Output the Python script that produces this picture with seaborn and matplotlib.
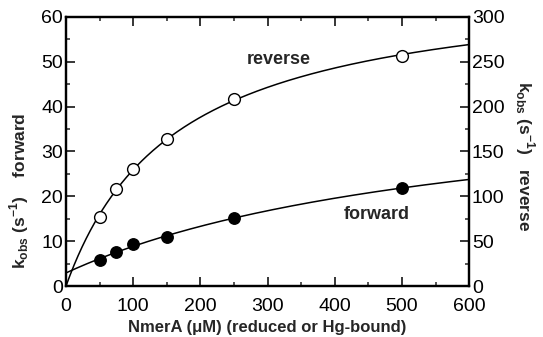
import numpy as np
import pandas as pd
import matplotlib
matplotlib.use("Agg")
import matplotlib.pyplot as plt
import seaborn as sns
from matplotlib.ticker import MultipleLocator

# Data
conc = [50, 75, 100, 150, 250, 500]               # NmerA (uM)
forward = [5.9, 7.6, 9.3, 11.0, 15.1, 21.9]        # left axis (s^-1)
reverse = [76.5, 108.0, 130.5, 163.7, 208.7, 256.8]  # right axis (s^-1)

x_ticks = [0, 100, 200, 300, 400, 500, 600]
left_ticks = [0, 10, 20, 30, 40, 50, 60]
right_ticks = [0, 50, 100, 150, 200, 250, 300]


def hyperbolic_fit(x, y, fix_zero=False):
    """least-squares fit of y = y0 + V*x/(K+x) (grid search on K)"""
    x = np.asarray(x, float); y = np.asarray(y, float)
    best = None
    for K in np.linspace(10, 3000, 6000):
        h = x / (K + x)
        if fix_zero:
            A = h[:, None]
        else:
            A = np.column_stack([np.ones_like(h), h])
        coef, *_ = np.linalg.lstsq(A, y, rcond=None)
        res = np.sum((A @ coef - y) ** 2)
        if best is None or res < best[0]:
            best = (res, K, coef)
    _, K, coef = best
    if fix_zero:
        y0, V = 0.0, coef[0]
    else:
        y0, V = coef
    return lambda xx: y0 + V * xx / (K + xx)


sns.set_theme(style="ticks")
plt.rcParams['font.family'] = ['Liberation Sans', 'DejaVu Sans']
plt.rcParams['mathtext.fontset'] = 'custom'
plt.rcParams['mathtext.rm'] = 'Liberation Sans:bold'
plt.rcParams['mathtext.bf'] = 'Liberation Sans:bold'

fig = plt.figure(figsize=(5.43, 3.37), dpi=100)
ax = fig.add_axes([0.1215, 0.151, 0.7425, 0.799])
ax2 = ax.twinx()

xx = np.linspace(0, 600, 400)
f_fit = hyperbolic_fit(conc, forward)
r_fit = hyperbolic_fit(conc, reverse, fix_zero=True)

df_pts = pd.DataFrame({"conc": conc, "forward": forward, "reverse": reverse})
df_fit = pd.DataFrame({"x": xx, "f": f_fit(xx), "r": r_fit(xx)})

sns.lineplot(data=df_fit, x="x", y="f", ax=ax, color="black", lw=1.1)
sns.scatterplot(data=df_pts, x="conc", y="forward", ax=ax, color="black",
                s=68, edgecolor="black", linewidth=1, zorder=5)

sns.lineplot(data=df_fit, x="x", y="r", ax=ax2, color="black", lw=1.1)
sns.scatterplot(data=df_pts, x="conc", y="reverse", ax=ax2, facecolor="white",
                s=72, edgecolor="black", linewidth=1, zorder=5)

ax.set_xlim(0, 600)
ax.set_ylim(0, 60)
ax2.set_ylim(0, 300)
ax.set_xticks(x_ticks)
ax.set_yticks(left_ticks)
ax2.set_yticks(right_ticks)
ax.xaxis.set_minor_locator(MultipleLocator(50))
ax.yaxis.set_minor_locator(MultipleLocator(5))
ax2.yaxis.set_minor_locator(MultipleLocator(25))

for a in (ax, ax2):
    for s in a.spines.values():
        s.set_visible(True)
        s.set_linewidth(1.6)
        s.set_color("black")
ax.tick_params(which="major", direction="in", length=6.5, width=1.1, top=True,
               labelsize=14, pad=2, colors="black")
ax.tick_params(axis="x", which="major", pad=8.5)
ax.tick_params(which="minor", direction="in", length=3.2, width=1.1, top=True)
ax2.tick_params(which="major", direction="in", length=6.5, width=1.1,
                labelsize=14, pad=2, colors="black")
ax2.tick_params(which="minor", direction="in", length=3.2, width=1.1)

ax.set_xlabel("NmerA (\u03bcM) (reduced or Hg-bound)", fontsize=12,
              fontweight="bold", labelpad=4)
ax.set_ylabel("k$_{\\mathrm{obs}}$ (s$^{\\mathrm{-1}}$)    forward", fontsize=12.5,
              fontweight="bold", va="center")
ax.yaxis.set_label_coords(-0.117, 0.353)
ax2.set_ylabel("k$_{\\mathrm{obs}}$ (s$^{\\mathrm{-1}}$)   reverse", fontsize=12.5,
               fontweight="bold", rotation=-90, va="center")
ax2.yaxis.set_label_coords(1.138, 0.483)

ax.text(317, 50.5, "reverse", fontsize=13, fontweight="bold",
        ha="center", va="center")
ax.text(462, 16.0, "forward", fontsize=13, fontweight="bold",
        ha="center", va="center")

fig.savefig("out.png", dpi=100)
